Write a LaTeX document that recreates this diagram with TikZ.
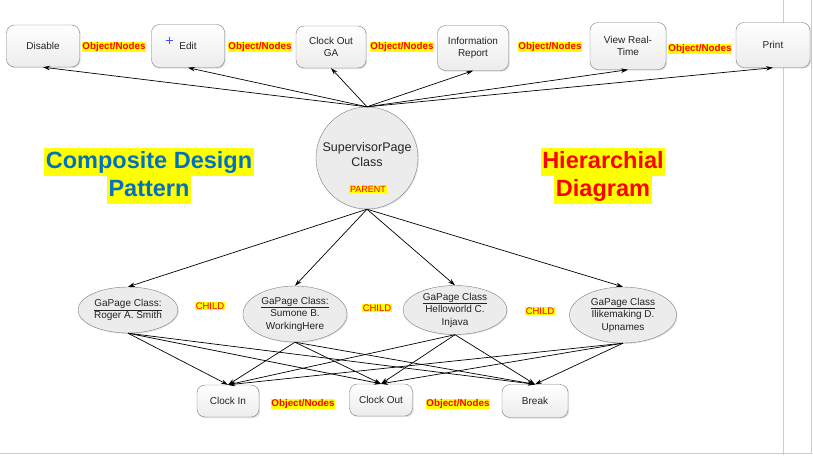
\documentclass[tikz,border=0pt]{standalone}
\usepackage{fontspec}
\setmainfont{Liberation Sans}
\usepackage{tikz}
\usetikzlibrary{shapes.geometric, arrows.meta, positioning, shadows}
\definecolor{boxline}{RGB}{125,125,125}
\definecolor{nodefill}{RGB}{236,236,236}
\definecolor{titleblue}{RGB}{0,112,192}
\definecolor{hiliteyellow}{RGB}{255,255,0}
\definecolor{labelred}{RGB}{255,0,0}
\definecolor{textgray}{RGB}{35,35,35}
\definecolor{edgegray}{RGB}{205,205,205}

\tikzset{
  objbox/.style={draw=boxline, top color=white, bottom color=nodefill,
    rounded corners=8pt, minimum width=73pt, minimum height=42pt,
    align=center, text=textgray, font=\fontsize{10}{12}\selectfont,
    drop shadow={opacity=0.25, shadow xshift=1.2pt, shadow yshift=-1.2pt}},
  childnode/.style={ellipse, draw=boxline, fill=nodefill, inner sep=0pt,
    minimum width=102pt, minimum height=48pt, align=center, text=textgray,
    font=\fontsize{10}{12.5}\selectfont,
    drop shadow={opacity=0.2, shadow xshift=1pt, shadow yshift=-1pt}},
  objlabel/.style={fill=hiliteyellow, text=labelred, inner sep=0.6pt,
    font=\fontsize{9.8}{11}\selectfont\bfseries},
  tag/.style={fill=hiliteyellow, text=labelred, inner sep=0.6pt,
    font=\fontsize{9.5}{11}\selectfont},
  bigtitle/.style={fill=hiliteyellow, inner sep=1.5pt, text height=19pt,
    text depth=6pt, font=\fontsize{23.5}{27}\selectfont\bfseries},
  conn/.style={-{Stealth[length=7pt,width=4.5pt]}, line width=0.7pt}
}

\begin{document}
\begin{tikzpicture}[x=1pt, y=-1pt]
  \useasboundingbox (0,0) rectangle (813,455);
  % window edges
  \draw[edgegray, line width=0.8pt] (783,0) -- (783,455);
  \draw[edgegray, line width=0.8pt] (811,0) -- (811,453) -- (0,453);

  % top row
  \node[objbox] (disable) at (43,46) {Disable};
  \node[objbox, minimum height=43pt] (edit) at (188,46) {Edit};
  \node[objbox, minimum width=70pt] (clockoutga) at (331,47) {Clock Out\\GA};
  \node[objbox, minimum width=71pt, minimum height=45pt] (inforeport) at (473,48) {Information\\Report};
  \node[objbox, minimum width=76pt, minimum height=47pt] (viewrt) at (628,46) {View Real-\\Time};
  \node[objbox, minimum width=74pt, minimum height=45pt] (print) at (773,45) {Print};
  \draw[blue!70, line width=0.5pt] (165.5,40) -- (172.5,40) (169,36.5) -- (169,43.5);

  \node[objlabel] (ol1) at (114,47) {Object/Nodes};
  \node[objlabel] (ol2) at (260,47) {Object/Nodes};
  \node[objlabel] (ol3) at (402,47) {Object/Nodes};
  \node[objlabel] (ol4) at (550,47) {Object/Nodes};
  \node[objlabel] (ol5) at (700,49) {Object/Nodes};

  % parent
  \node[circle, draw=boxline, fill=nodefill, minimum size=102pt, inner sep=0pt,
        drop shadow={opacity=0.2, shadow xshift=1pt, shadow yshift=-1pt}]
        (sup) at (367,158) {};
  \node[align=center, text=textgray, font=\fontsize{12.5}{15}\selectfont]
        (suptext) at (367,155) {SupervisorPage\\Class};
  \node[tag, font=\fontsize{9}{10}\selectfont] (parent) at (368,189) {PARENT};

  \node[bigtitle, text=titleblue] (comp1) at (149,162) {Composite Design};
  \node[bigtitle, text=titleblue, below=0pt of comp1] (comp2) {Pattern};
  \node[bigtitle, text=labelred] (hier1) at (603,162) {Hierarchial};
  \node[bigtitle, text=labelred, below=0pt of hier1] (hier2) {Diagram};

  % children
  \node[childnode, minimum width=100pt, minimum height=46pt] (roger) at (128,310)
        {\underline{GaPage Class:}\\Roger A.\ Smith};
  \node[childnode, minimum width=104pt, minimum height=56pt] (sumone) at (295,314)
        {\underline{GaPage Class:}\\Sumone B.\\WorkingHere};
  \node[childnode, minimum width=104pt, minimum height=49pt] (hello) at (455,310)
        {\underline{GaPage Class}\\Helloworld C.\\Injava};
  \node[childnode, minimum width=107pt, minimum height=56pt] (ilike) at (623,315)
        {\underline{GaPage Class}\\Ilikemaking D.\\Upnames};

  \node[tag] (child1) at (210,306) {CHILD};
  \node[tag] (child2) at (377,308) {CHILD};
  \node[tag] (child3) at (540,311) {CHILD};

  % bottom row
  \node[objbox, minimum width=62pt, minimum height=32pt] (clockin) at (228,401) {Clock In};
  \node[objbox, minimum width=63pt, minimum height=32pt] (clockout) at (381,400) {Clock Out};
  \node[objbox, minimum width=66pt, minimum height=33pt] (brk) at (535,401) {Break};

  \node[objlabel] (ol6) at (303,404) {Object/Nodes};
  \node[objlabel] (ol7) at (458,404) {Object/Nodes};

  % connectors
  \foreach \t in {disable, edit, clockoutga, inforeport, viewrt, print}
    \draw[conn] (sup.north) -- (\t.south);
  \foreach \c in {roger, sumone, hello, ilike}
    \draw[conn] (sup.south) -- (\c.north);
  \foreach \c in {roger, sumone, hello, ilike}
    \foreach \b in {clockin, clockout, brk}
      \draw[conn] (\c.south) -- (\b.north);
\end{tikzpicture}
\end{document}
